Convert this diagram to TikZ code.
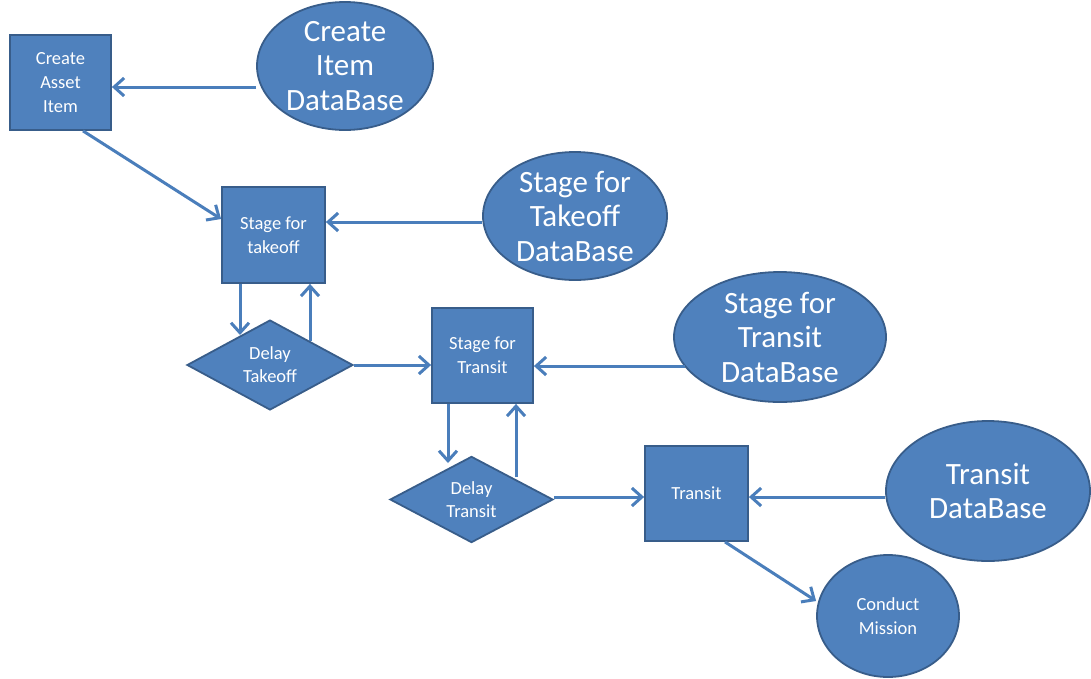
\documentclass[tikz,border=0pt]{standalone}
\usepackage{fontspec}
\setmainfont{Carlito}
\usetikzlibrary{shapes.geometric,arrows.meta}
\definecolor{boxfill}{HTML}{4F81BD}
\definecolor{boxline}{HTML}{385D8A}
\definecolor{flow}{HTML}{4A7EBB}
\begin{document}
\begin{tikzpicture}[x=1pt,y=-1pt,
  shapebase/.style={fill=boxfill,draw=boxline,line width=1.8pt,text=white,align=center,inner sep=0pt},
  procbox/.style={shapebase,rectangle,font=\fontsize{18.5}{24}\selectfont},
  dbell/.style={shapebase,ellipse,font=\fontsize{31}{34.5}\selectfont},
  decision/.style={shapebase,diamond,font=\fontsize{18.5}{23}\selectfont},
  flowline/.style={draw=flow,line width=3pt,-{Straight Barb[length=10pt,width=18pt,line width=3pt]}}]
\useasboundingbox (0,0) rectangle (1091,678);

% process boxes
\node[procbox,minimum width=101pt,minimum height=95pt] (cai) at (60.5,82.5) {Create\\Asset\\Item};
\node[procbox,minimum width=103pt,minimum height=96pt] (sft) at (273.5,235) {Stage for\\takeoff};
\node[procbox,minimum width=101pt,minimum height=95pt] (sfr) at (482.5,355.5) {Stage for\\Transit};
\node[procbox,minimum width=103pt,minimum height=95pt] (tr) at (696.5,493.5) {Transit};

% decisions
\node[decision,minimum width=166pt,minimum height=84pt] (dto) at (270,365) {Delay\\Takeoff};
\node[decision,minimum width=163pt,minimum height=85pt] (dtr) at (471.5,499.5) {Delay\\Transit};

% databases
\node[dbell,minimum width=176pt,minimum height=128pt] (db1) at (345,66) {Create\\Item\\DataBase};
\node[dbell,minimum width=184pt,minimum height=128pt] (db2) at (575,216) {Stage for\\Takeoff\\DataBase};
\node[dbell,minimum width=212pt,minimum height=130pt] (db3) at (780,337) {Stage for\\Transit\\DataBase};
\node[dbell,minimum width=204pt,minimum height=140pt] (db4) at (988,491) {Transit\\DataBase};
\node[dbell,minimum width=142pt,minimum height=122pt,font=\fontsize{18.5}{24}\selectfont] (cm) at (888,616) {Conduct\\Mission};

% connectors
\draw[flowline] (db1.west |- 0,87) -- (cai.east |- 0,87);
\draw[flowline] (cai.south -| 83,0) -- (sft.west |- 0,219);
\draw[flowline] (db2.west |- 0,222) -- (sft.east |- 0,222);
\draw[flowline] (sft.south -| 240,0) -- (240,335);
\draw[flowline] (310,341) -- (sft.south -| 310,0);
\draw[flowline] (dto.east) -- (sfr.west |- dto.east);
\draw[flowline] (685,366) -- (sfr.east |- 0,366);
\draw[flowline] (sfr.south -| 448,0) -- (448,463);
\draw[flowline] (516,477) -- (sfr.south -| 516,0);
\draw[flowline] (dtr.east |- 0,497) -- (tr.west |- 0,497);
\draw[flowline] (db4.west |- 0,497) -- (tr.east |- 0,497);
\draw[flowline] (tr.south -| 725,0) -- (cm.west |- 0,601);
\end{tikzpicture}
\end{document}
